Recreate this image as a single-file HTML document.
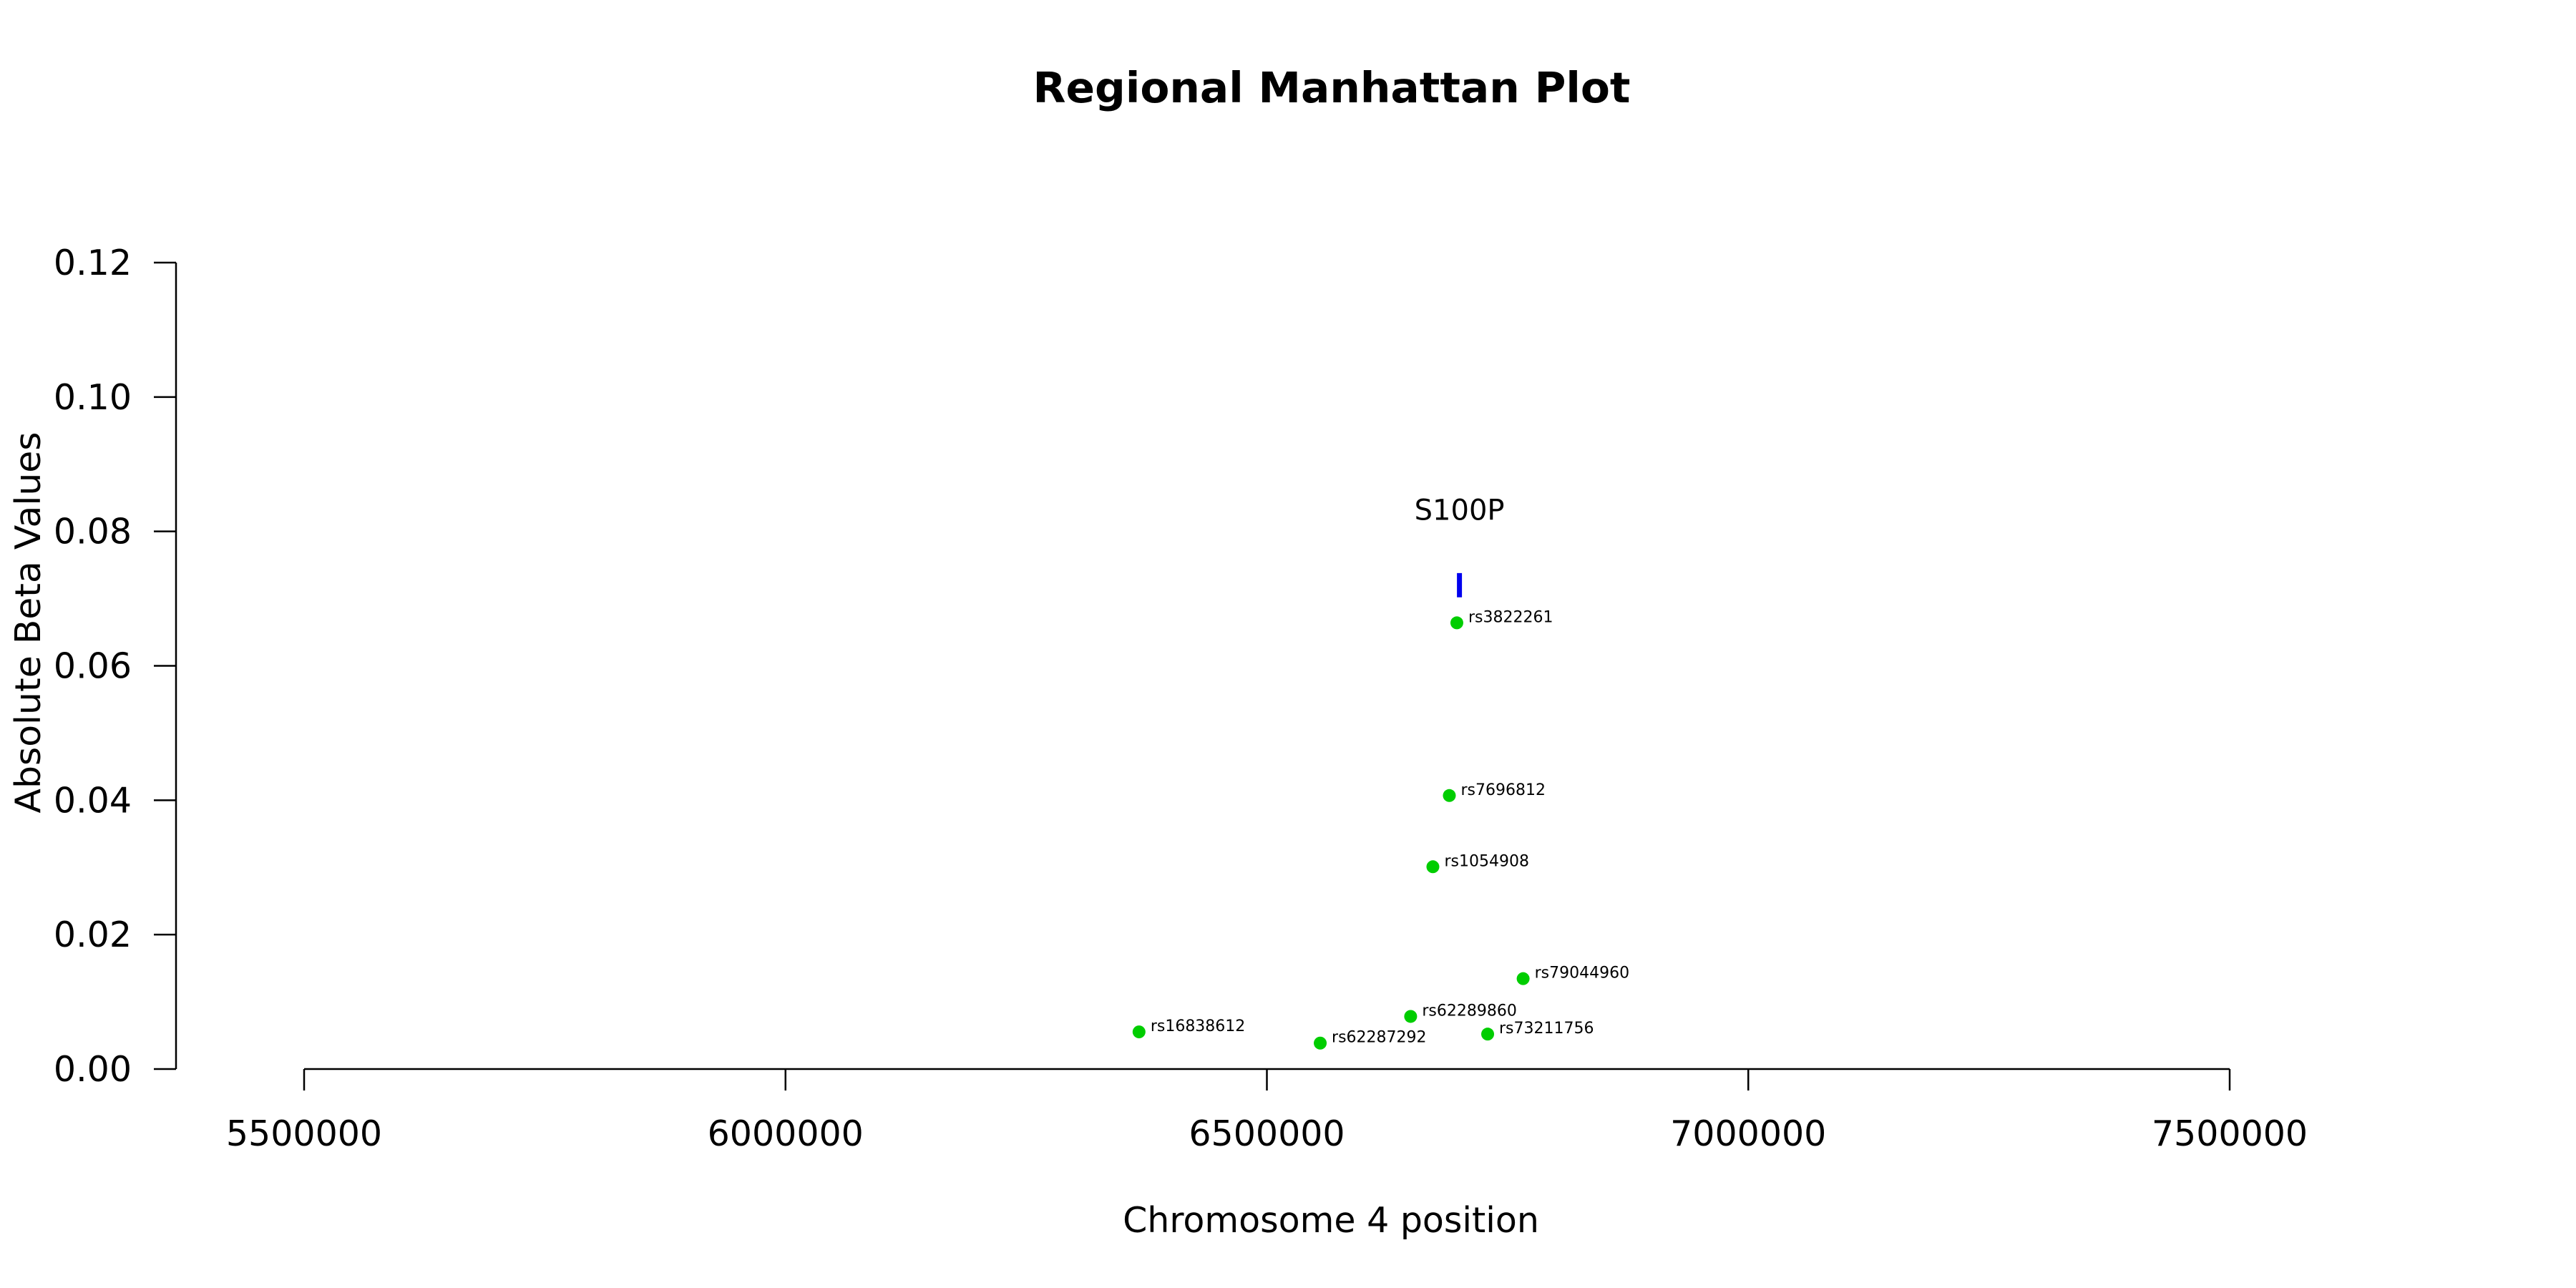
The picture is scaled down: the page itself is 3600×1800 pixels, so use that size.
<!DOCTYPE html>
<html><head><meta charset="utf-8"><style>
html,body{margin:0;padding:0;background:#fff;}
svg{display:block;font-family:"DejaVu Sans","Liberation Sans",sans-serif;}
</style></head><body>
<svg id="chart" width="3600" height="1800" viewBox="0 0 3600 1800" xmlns="http://www.w3.org/2000/svg">
<rect width="3600" height="1800" fill="#fff"/>
<text x="1861" y="143" text-anchor="middle" font-size="59" font-weight="bold" textLength="835" lengthAdjust="spacingAndGlyphs">Regional Manhattan Plot</text>
<text transform="translate(56,870) rotate(-90)" text-anchor="middle" font-size="49" textLength="533" lengthAdjust="spacingAndGlyphs">Absolute Beta Values</text>
<text x="1860" y="1722" text-anchor="middle" font-size="49">Chromosome 4 position</text>
<g id="axes"></g>
<g id="marks"></g>
</svg>
<script>
const snpNames = ["rs3822261","rs7696812","rs1054908","rs79044960","rs62289860","rs73211756","rs16838612","rs62287292"];
const snpPositions = [6697300,6689500,6672400,6766150,6649300,6729300,6367200,6555400];
const snpBetas = [0.0664,0.0407,0.0301,0.01345,0.00783,0.0052,0.00553,0.00386];
const geneNames = ["S100P"];
const genePositions = [6700000];
const geneBarLow = [0.0702];
const geneBarHigh = [0.0738];
const geneLabelY = [0.0832];
const yTicks = [0,0.02,0.04,0.06,0.08,0.1,0.12];
const yTickLabels = ["0.00","0.02","0.04","0.06","0.08","0.10","0.12"];
const xTicks = [5500000,6000000,6500000,7000000,7500000];
const xTickLabels = ["5500000","6000000","6500000","7000000","7500000"];

const NS="http://www.w3.org/2000/svg";
const X0=425,X1=3116,XMIN=5500000,XMAX=7500000;
const Y0=1494,Y1=367,YMIN=0,YMAX=0.12;
function xs(v){return X0+(v-XMIN)/(XMAX-XMIN)*(X1-X0);}
function ys(v){return Y0+(v-YMIN)/(YMAX-YMIN)*(Y1-Y0);}
function mk(tag,attrs,parent){const e=document.createElementNS(NS,tag);for(const k in attrs)e.setAttribute(k,attrs[k]);parent.appendChild(e);return e;}
const axes=document.getElementById('axes'), marks=document.getElementById('marks');

let l=mk('line',{x1:246,x2:246,y1:ys(YMAX),y2:ys(YMIN),stroke:'#000','stroke-width':2.5},axes);


yTicks.forEach((t,i)=>{
  const tk=mk('line',{x1:215,x2:246,y1:ys(t),y2:ys(t),stroke:'#000','stroke-width':2.5},axes);
  
  
  const tx=mk('text',{x:184,y:ys(t)+17,'text-anchor':'end','font-size':49},axes);
  
  
  tx.textContent=yTickLabels[i];
});
l=mk('line',{x1:xs(XMIN),x2:xs(XMAX),y1:Y0,y2:Y0,stroke:'#000','stroke-width':2.5},axes);


xTicks.forEach((t,i)=>{
  const tk=mk('line',{x1:xs(t),x2:xs(t),y1:Y0,y2:Y0+30,stroke:'#000','stroke-width':2.5},axes);
  
  
  const tx=mk('text',{x:xs(t),y:1601,'text-anchor':'middle','font-size':49},axes);
  
  
  tx.textContent=xTickLabels[i];
});
geneNames.forEach((g,i)=>{
  const b=mk('line',{x1:xs(genePositions[i]),x2:xs(genePositions[i]),y1:ys(geneBarLow[i]),y2:ys(geneBarHigh[i]),stroke:'#0000ee','stroke-width':7},marks);
  
  
  const t=mk('text',{x:xs(genePositions[i]),y:ys(geneLabelY[i])+14,'text-anchor':'middle','font-size':40},marks);
  
  
  t.textContent=g;
});
snpNames.forEach((n,i)=>{
  const cx=xs(snpPositions[i]),cy=ys(snpBetas[i]);
  const c=mk('circle',{cx:cx,cy:cy,r:9,fill:'#00cd00'},marks);
  
  
  const t=mk('text',{x:cx+16,y:cy-1,'font-size':22},marks);
  
  
  t.textContent=n;
});
</script>
</body></html>
